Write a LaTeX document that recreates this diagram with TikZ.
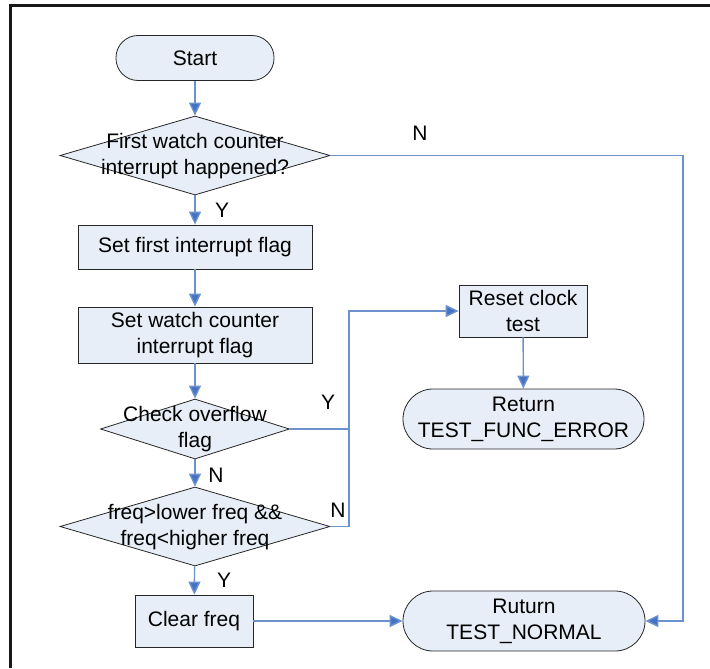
\documentclass[tikz,border=0pt]{standalone}
\usepackage{fontspec}
\setmainfont{Liberation Sans}
\usepackage{tikz}
\usetikzlibrary{shapes.geometric, arrows.meta, positioning}
\definecolor{boxfill}{RGB}{232, 238, 247}
\definecolor{flowline}{RGB}{108, 146, 206}
\definecolor{flowtip}{RGB}{68, 114, 196}
\newcommand{\dtxt}[1]{\smash{\makebox[0pt]{\raisebox{-3pt}{\begin{tabular}{@{}c@{}}#1\end{tabular}}}}}

\tikzset{
  terminal/.style={draw=black!85, fill=boxfill, rectangle, rounded corners=#1, inner sep=0pt, align=center},
  procbox/.style={draw=black!85, fill=boxfill, rectangle, inner sep=0pt, align=center},
  decision/.style={draw=black!85, fill=boxfill, diamond, inner sep=0pt},
  flow/.style={draw=flowline, line width=0.7pt},
  flowarrow/.style={flow, -{Triangle[length=6.5pt, width=6pt, fill=flowtip]}},
  answer/.style={inner sep=0pt}
}

\begin{document}
\begin{tikzpicture}[x=0.5pt, y=-0.5pt, font=\fontsize{10.5}{13}\selectfont]
  \useasboundingbox (0,0) rectangle (710,668);
  % frame
  \draw[line width=1.5pt, black!90] (710,6) -- (10,6) -- (10,668);

  % main column
  \node[terminal=11pt, minimum width=79pt, minimum height=22.5pt] (start) at (195,58) {Start};
  \node[decision, minimum width=135pt, minimum height=39.5pt] (firstint) at (195,155.5)
    {\dtxt{First watch counter\\interrupt happened?}};
  \node[procbox, minimum width=117pt, minimum height=22pt] (setfirst) at (195,247) {Set first interrupt flag};
  \node[procbox, minimum width=117pt, minimum height=28pt] (setwatch) at (195,335)
    {Set watch counter\\interrupt flag};
  \node[decision, minimum width=94.5pt, minimum height=30pt] (chkovf) at (195,429)
    {\dtxt{Check overflow\\flag}};
  \node[decision, minimum width=135pt, minimum height=39.5pt] (freqrange) at (195,526.5)
    {\dtxt{freq>lower freq \&\&\\freq<higher freq}};
  \node[procbox, minimum width=59pt, minimum height=26pt] (clrfreq) at (194,621) {Clear freq};

  % right column
  \node[procbox, minimum width=64pt, minimum height=26pt] (rstclk) at (523,311) {Reset clock\\test};
  \node[terminal=15pt, minimum width=120.5pt, minimum height=30pt] (reterr) at (523.5,419)
    {Return\\TEST\_FUNC\_ERROR};
  \node[terminal=15pt, minimum width=121pt, minimum height=30pt] (retnorm) at (524,621)
    {Ruturn\\TEST\_NORMAL};

  \coordinate (ncorner) at (683,155.5);
  \coordinate (ybus) at (349,429);

  % connectors
  \draw[flowarrow] (start) -- (firstint);
  \draw[flowarrow] (firstint) -- (setfirst);
  \draw[flowarrow] (setfirst) -- (setwatch);
  \draw[flowarrow] (setwatch) -- (chkovf);
  \draw[flowarrow] (chkovf) -- (freqrange);
  \draw[flowarrow] (freqrange) -- (clrfreq);
  \draw[flowarrow] (clrfreq) -- (retnorm);
  \draw[flowarrow] (firstint.east) -- (ncorner) |- (retnorm.east);
  \draw[flow] (chkovf.east) -- (ybus);
  \draw[flowarrow] (freqrange.east) -| (ybus) |- (rstclk.west);
  \draw[flowarrow] (rstclk) -- (reterr);

  % answers
  \node[answer] (yfirst) at (222,210) {Y};
  \node[answer] (nfirst) at (420,133) {N};
  \node[answer] (yovf) at (328,402) {Y};
  \node[answer] (novf) at (216,475) {N};
  \node[answer] (nrange) at (338,510) {N};
  \node[answer] (yrange) at (224,580) {Y};
\end{tikzpicture}
\end{document}
